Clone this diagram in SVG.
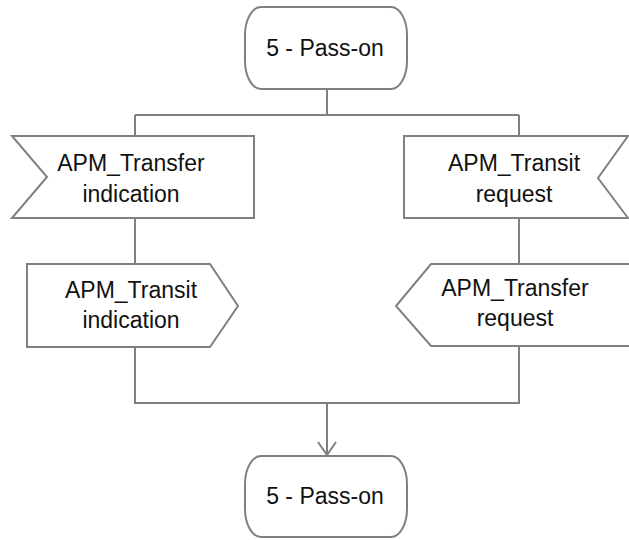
<svg xmlns="http://www.w3.org/2000/svg" width="629" height="540" viewBox="0 0 629 540">
  <style>
    .shape { fill: #ffffff; stroke: #808080; stroke-width: 2; }
    .conn { fill: none; stroke: #808080; stroke-width: 2; }
    .label { font-family: "Liberation Sans", Arial, sans-serif; font-size: 23px; fill: #111111; text-anchor: middle; }
  </style>
  <defs>
    <marker id="openArrow" markerWidth="20" markerHeight="20" refX="10" refY="14" orientation="auto" markerUnits="userSpaceOnUse" viewBox="0 0 20 20">
      <path d="M1,1 L10,14 L19,1" fill="none" stroke="#808080" stroke-width="2"/>
    </marker>
  </defs>

  <!-- connectors -->
  <g id="connectors">
    <path class="conn" d="M327,89 V115"/>
    <path class="conn" d="M135,115 H519"/>
    <path class="conn" d="M135,115 V136"/>
    <path class="conn" d="M519,115 V136"/>
    <path class="conn" d="M135,218 V264"/>
    <path class="conn" d="M519,218 V264"/>
    <path class="conn" d="M135,347 V403 H519 V346"/>
    <path class="conn" d="M327,403 V455" marker-end="url(#openArrow)"/>
  </g>

  <!-- start state -->
  <g id="state-top">
    <rect class="shape" x="245" y="7" width="162" height="82" rx="16" ry="28"/>
    <text class="label" x="325" y="56">5 - Pass-on</text>
  </g>

  <!-- input signal, left branch -->
  <g id="in-transfer-indication">
    <polygon class="shape" points="12,136 254,136 254,218 12,218 47,177"/>
    <text class="label" x="131" y="171">APM_Transfer</text>
    <text class="label" x="131" y="202">indication</text>
  </g>

  <!-- input signal, right branch -->
  <g id="in-transit-request">
    <polygon class="shape" points="404,136 628,136 598,178 628,218 404,218"/>
    <text class="label" x="514" y="171">APM_Transit</text>
    <text class="label" x="514" y="202">request</text>
  </g>

  <!-- output signal, left branch -->
  <g id="out-transit-indication">
    <polygon class="shape" points="27,264 210,264 238,306 210,347 27,347"/>
    <text class="label" x="131" y="298">APM_Transit</text>
    <text class="label" x="131" y="328">indication</text>
  </g>

  <!-- output signal, right branch -->
  <g id="out-transfer-request">
    <polygon class="shape" points="431,264 632,264 632,346 431,346 396,306"/>
    <text class="label" x="515" y="296">APM_Transfer</text>
    <text class="label" x="515" y="326">request</text>
  </g>

  <!-- next state -->
  <g id="state-bottom">
    <rect class="shape" x="245" y="456" width="162" height="81" rx="16" ry="28"/>
    <text class="label" x="325" y="504">5 - Pass-on</text>
  </g>
</svg>
